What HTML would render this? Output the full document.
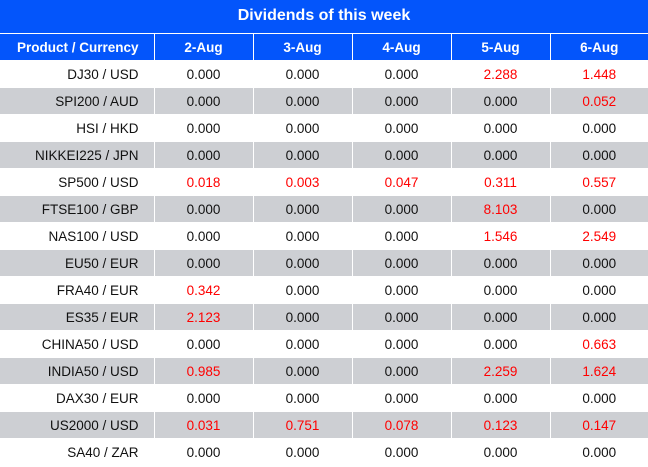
<!DOCTYPE html>
<html><head><style>
body{margin:0;width:648px;height:467px;overflow:hidden;background:#fff;font-family:"Liberation Sans",sans-serif;}
.t{height:33px;background:#0355fb;color:#fff;font-weight:bold;font-size:16px;text-align:center;line-height:31px;border-bottom:1px solid #fff;}
table{border-collapse:collapse;table-layout:fixed;width:648px;}
td{height:26px;padding:0;font-size:13.5px;text-align:center;border-left:1px solid #fff;border-bottom:1px solid #fff;color:#111;}
td:first-child{border-left:none;text-align:right;padding-right:15px;}
tr.h td{background:#0355fb;color:#fff;font-weight:bold;font-size:13.5px;}
tr.g td{background:#cdcfd3;}
.r{color:#f00;}
</style></head><body>
<div class="t">Dividends of this week</div>
<table>
<colgroup><col style="width:154px"><col style="width:99px"><col style="width:99px"><col style="width:99px"><col style="width:99px"><col style="width:98px"></colgroup>
<tr class="h"><td>Product / Currency</td><td>2-Aug</td><td>3-Aug</td><td>4-Aug</td><td>5-Aug</td><td>6-Aug</td></tr>
<tr><td>DJ30 / USD</td><td>0.000</td><td>0.000</td><td>0.000</td><td class="r">2.288</td><td class="r">1.448</td></tr>
<tr class="g"><td>SPI200 / AUD</td><td>0.000</td><td>0.000</td><td>0.000</td><td>0.000</td><td class="r">0.052</td></tr>
<tr><td>HSI / HKD</td><td>0.000</td><td>0.000</td><td>0.000</td><td>0.000</td><td>0.000</td></tr>
<tr class="g"><td>NIKKEI225 / JPN</td><td>0.000</td><td>0.000</td><td>0.000</td><td>0.000</td><td>0.000</td></tr>
<tr><td>SP500 / USD</td><td class="r">0.018</td><td class="r">0.003</td><td class="r">0.047</td><td class="r">0.311</td><td class="r">0.557</td></tr>
<tr class="g"><td>FTSE100 / GBP</td><td>0.000</td><td>0.000</td><td>0.000</td><td class="r">8.103</td><td>0.000</td></tr>
<tr><td>NAS100 / USD</td><td>0.000</td><td>0.000</td><td>0.000</td><td class="r">1.546</td><td class="r">2.549</td></tr>
<tr class="g"><td>EU50 / EUR</td><td>0.000</td><td>0.000</td><td>0.000</td><td>0.000</td><td>0.000</td></tr>
<tr><td>FRA40 / EUR</td><td class="r">0.342</td><td>0.000</td><td>0.000</td><td>0.000</td><td>0.000</td></tr>
<tr class="g"><td>ES35 / EUR</td><td class="r">2.123</td><td>0.000</td><td>0.000</td><td>0.000</td><td>0.000</td></tr>
<tr><td>CHINA50 / USD</td><td>0.000</td><td>0.000</td><td>0.000</td><td>0.000</td><td class="r">0.663</td></tr>
<tr class="g"><td>INDIA50 / USD</td><td class="r">0.985</td><td>0.000</td><td>0.000</td><td class="r">2.259</td><td class="r">1.624</td></tr>
<tr><td>DAX30 / EUR</td><td>0.000</td><td>0.000</td><td>0.000</td><td>0.000</td><td>0.000</td></tr>
<tr class="g"><td>US2000 / USD</td><td class="r">0.031</td><td class="r">0.751</td><td class="r">0.078</td><td class="r">0.123</td><td class="r">0.147</td></tr>
<tr><td>SA40 / ZAR</td><td>0.000</td><td>0.000</td><td>0.000</td><td>0.000</td><td>0.000</td></tr>
</table>
</body></html>
